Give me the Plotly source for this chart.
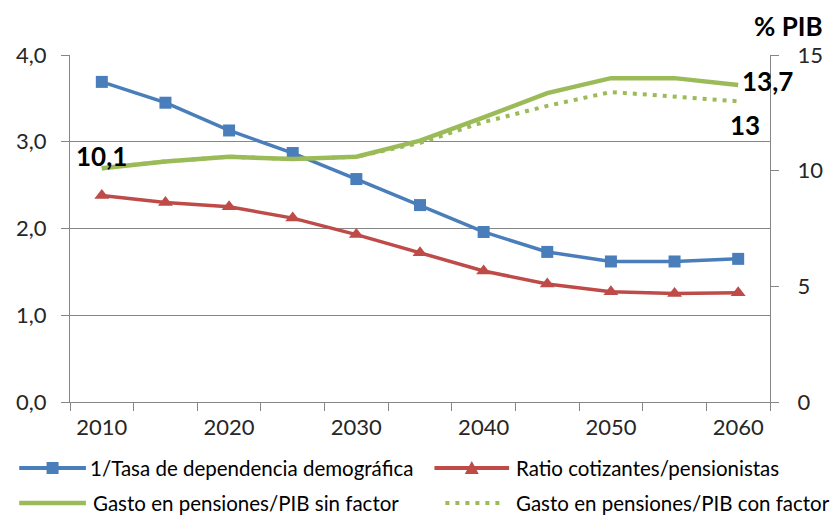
import plotly.graph_objects as go

# Projection years (one point every five years)
years = [2010, 2015, 2020, 2025, 2030, 2035, 2040, 2045, 2050, 2055, 2060]
tick_years = [2010, 2020, 2030, 2040, 2050, 2060]

# Left axis series (ratios)
inv_dependency = [3.69, 3.45, 3.13, 2.87, 2.57, 2.27, 1.96, 1.73, 1.62, 1.62, 1.65]
contrib_per_pensioner = [2.38, 2.30, 2.25, 2.12, 1.93, 1.72, 1.51, 1.36, 1.27, 1.25, 1.26]

# Right axis series (% of GDP)
spend_no_factor = [10.1, 10.4, 10.6, 10.5, 10.6, 11.3, 12.3, 13.35, 14.0, 14.0, 13.7]
spend_with_factor = [10.1, 10.4, 10.6, 10.5, 10.6, 11.2, 12.1, 12.8, 13.4, 13.2, 13.0]

series_names = [
    "1/Tasa de dependencia demográfica",
    "Ratio cotizantes/pensionistas",
    "Gasto en pensiones/PIB sin factor",
    "Gasto en pensiones/PIB con factor",
]

BLUE = "#4A7EBB"
RED = "#BE4B48"
GREEN = "#9BBB59"
AXIS = "#868686"
FONT = "Lato"
DOT_DASH = "4px,6px"

# Plot area in pixels (fixed margins)
W, H = 835, 519
ML, MR, MT, MB = 70, 62, 55, 117
PW, PH = W - ML - MR, H - MT - MB


def px_x(px):
    return (px - ML) / PW


def px_y(py):
    return (H - MB - py) / PH


fig = go.Figure()

fig.add_trace(go.Scatter(
    x=years, y=inv_dependency, name=series_names[0],
    mode="lines+markers", line=dict(color=BLUE, width=3.5),
    marker=dict(symbol="square", size=12, color=BLUE),
))
fig.add_trace(go.Scatter(
    x=years, y=contrib_per_pensioner, name=series_names[1],
    mode="lines+markers", line=dict(color=RED, width=3.5),
    marker=dict(symbol="triangle-up", size=13, color=RED),
))
fig.add_trace(go.Scatter(
    x=years, y=spend_no_factor, name=series_names[2],
    mode="lines", line=dict(color=GREEN, width=4.5),
    yaxis="y2",
))
fig.add_trace(go.Scatter(
    x=years, y=spend_with_factor, name=series_names[3],
    mode="lines", line=dict(color=GREEN, width=4, dash=DOT_DASH),
    yaxis="y2",
))

# Value labels on the spending series
label_font = dict(family=FONT, size=26, color="#000000")
fig.add_annotation(x=years[0], y=spend_no_factor[0], yref="y2", text="<b>10,1</b>",
                   showarrow=False, xanchor="center", yanchor="bottom", yshift=-6,
                   font=label_font)
fig.add_annotation(x=years[-1], y=spend_no_factor[-1], yref="y2",
                   text="<b>" + f"{spend_no_factor[-1]:.1f}".replace(".", ",") + "</b>",
                   showarrow=False, xanchor="left", yanchor="middle", xshift=2, yshift=4,
                   font=label_font)
fig.add_annotation(x=years[-1], y=spend_with_factor[-1], yref="y2",
                   text="<b>" + f"{spend_with_factor[-1]:g}" + "</b>",
                   showarrow=False, xanchor="left", yanchor="top", xshift=-10, yshift=-6,
                   font=label_font)
fig.add_annotation(x=1.0, y=1.0, xref="paper", yref="paper", text="<b>% PIB</b>",
                   showarrow=False, xanchor="left", yanchor="bottom", xshift=-18, yshift=11,
                   font=dict(family=FONT, size=26, color="#000000"))

# Legend drawn as two columns below the axis
legend_items = [
    # (name, color, dash, width, marker, x_start, x_end, text_x, row_y)
    (series_names[0], BLUE, "solid", 4, "square", 19, 86, 88, 468),
    (series_names[1], RED, "solid", 4, "triangle", 436, 511, 516, 468),
    (series_names[2], GREEN, "solid", 4.5, None, 19, 86, 91, 503),
    (series_names[3], GREEN, DOT_DASH, 4, None, 447, 503, 516, 503),
]
for name, color, dash, width, marker, x0, x1, tx, ry in legend_items:
    fig.add_shape(type="line", xref="paper", yref="paper",
                  x0=px_x(x0), x1=px_x(x1), y0=px_y(ry), y1=px_y(ry),
                  line=dict(color=color, width=width, dash=dash))
    xm, ym = px_x((x0 + x1) / 2), px_y(ry)
    if marker == "square":
        fig.add_shape(type="rect", xref="paper", yref="paper",
                      xsizemode="pixel", ysizemode="pixel", xanchor=xm, yanchor=ym,
                      x0=-6, x1=6, y0=-6, y1=6,
                      line=dict(width=0), fillcolor=color)
    elif marker == "triangle":
        fig.add_shape(type="path", xref="paper", yref="paper",
                      xsizemode="pixel", ysizemode="pixel", xanchor=xm, yanchor=ym,
                      path="M -7,-6 L 7,-6 L 0,7 Z",
                      line=dict(width=0), fillcolor=color)
    fig.add_annotation(x=px_x(tx), y=px_y(ry), xref="paper", yref="paper",
                       text=name, showarrow=False, xanchor="left", yanchor="middle",
                       font=dict(family=FONT, size=20.5, color="#000000"))

fig.update_layout(
    width=W, height=H,
    margin=dict(l=ML, r=MR, t=MT, b=MB),
    paper_bgcolor="white", plot_bgcolor="white",
    separators=",.",
    font=dict(family=FONT, size=22, color="#262626"),
    showlegend=False,
    xaxis=dict(
        range=[2007.5, 2062.5], tickvals=tick_years, ticks="", showgrid=False,
        zeroline=False, showline=True, linecolor=AXIS, linewidth=1,
        minor=dict(tick0=2007.5, dtick=5, ticks="outside", ticklen=8,
                   tickcolor=AXIS, showgrid=False),
        tickfont=dict(family=FONT, size=22, color="#262626"),
        ticklabelstandoff=6,
    ),
    yaxis=dict(
        range=[0, 4], dtick=1, tickformat=".1f", showgrid=True, gridcolor=AXIS,
        gridwidth=1, zeroline=False, showline=True, linecolor=AXIS, linewidth=1,
        ticks="outside", ticklen=8, tickcolor=AXIS,
        tickfont=dict(family=FONT, size=22, color="#262626"),
        ticklabelstandoff=10,
    ),
    yaxis2=dict(
        range=[0, 15], dtick=5, overlaying="y", side="right", showgrid=False,
        zeroline=False, showline=True, linecolor=AXIS, linewidth=1,
        ticks="outside", ticklen=8, tickcolor=AXIS,
        tickfont=dict(family=FONT, size=22, color="#262626"),
        ticklabelstandoff=14,
    ),
)

fig.write_html("out.html")
